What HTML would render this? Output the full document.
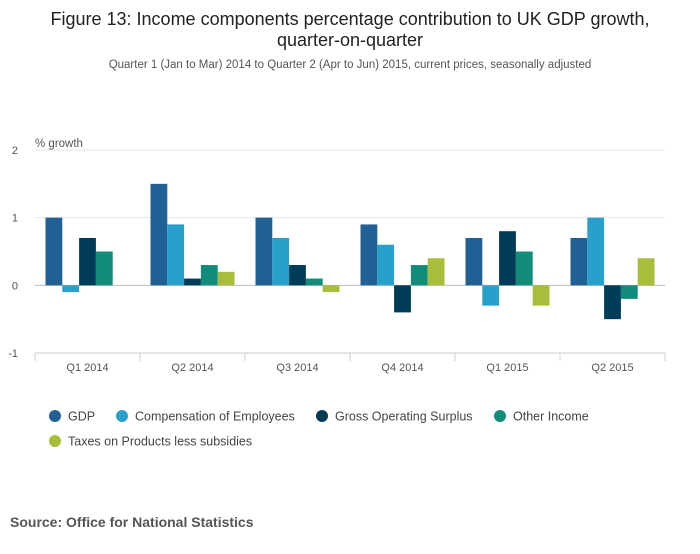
<!DOCTYPE html>
<html><head><meta charset="utf-8"><style>
body{margin:0;background:#fff;font-family:"Liberation Sans",sans-serif;}
svg text{font-family:"Liberation Sans",sans-serif;}
</style></head><body>
<svg id="chart" width="700" height="549" xmlns="http://www.w3.org/2000/svg">
<text x="350" y="25" text-anchor="middle" font-size="18" fill="#222">Figure 13: Income components percentage contribution to UK GDP growth,</text>
<text x="350" y="46" text-anchor="middle" font-size="18" fill="#222">quarter-on-quarter</text>
<text x="350" y="68" text-anchor="middle" font-size="11.5" fill="#555">Quarter 1 (Jan to Mar) 2014 to Quarter 2 (Apr to Jun) 2015, current prices, seasonally adjusted</text>
<text x="35" y="147" font-size="11.5" fill="#555">% growth</text>
<g id="grid"></g><g id="bars"></g><g id="xaxis"></g>
<g id="legend"></g>
<text x="10" y="527" font-size="14" font-weight="bold" fill="#555">Source: Office for National Statistics</text>
</svg>
<script>
const categories=["Q1 2014","Q2 2014","Q3 2014","Q4 2014","Q1 2015","Q2 2015"];
const seriesNames=["GDP","Compensation of Employees","Gross Operating Surplus","Other Income","Taxes on Products less subsidies"];
const gdp=[1.0,1.5,1.0,0.9,0.7,0.7];
const comp=[-0.1,0.9,0.7,0.6,-0.3,1.0];
const gos=[0.7,0.1,0.3,-0.4,0.8,-0.5];
const other=[0.5,0.3,0.1,0.3,0.5,-0.2];
const taxes=[0.0,0.2,-0.1,0.4,-0.3,0.4];
const yTicks=[2,1,0,-1];
const colors=["#206095","#27a0cc","#003c57","#118c7b","#a8bd3a"];
const series=[gdp,comp,gos,other,taxes];
const NS="http://www.w3.org/2000/svg";
const x0=35,x1=665,yTop=150,yBot=353,yMax=2,yMin=-1;
const y=v=>yTop+(yMax-v)/(yMax-yMin)*(yBot-yTop);
const bw=(x1-x0)/categories.length;
function mk(tag,attrs,parent){const e=document.createElementNS(NS,tag);for(const k in attrs)e.setAttribute(k,attrs[k]);document.getElementById(parent).appendChild(e);return e;}
yTicks.forEach(t=>{
 const l=mk("line",{x1:x0,x2:x1,y1:y(t),y2:y(t),stroke:t===0?"#bbb":"#e6e6e6","stroke-width":1},"grid");
 
 
 const tx=mk("text",{x:18,y:y(t)+4,"font-size":11,fill:"#555","text-anchor":"end"},"grid");
 tx.textContent=t;
 
 
});
const ax=mk("line",{x1:x0,x2:x1,y1:yBot,y2:yBot,stroke:"#ccc"},"xaxis");


const barW=16.8;
categories.forEach((c,i)=>{
 const gx=x0+i*bw;
 const tk=mk("line",{x1:gx,x2:gx,y1:yBot,y2:yBot+8,stroke:"#ccc"},"xaxis");
 
 
 const t=mk("text",{x:gx+bw/2,y:yBot+18,"font-size":11,fill:"#555","text-anchor":"middle"},"xaxis");
 t.textContent=c;
 
 
 const start=gx+(bw-barW*5)/2;
 series.forEach((s,j)=>{
  const v=s[i];
  const r=mk("rect",{x:start+j*barW,y:Math.min(y(v),y(0)),width:barW,height:Math.abs(y(v)-y(0)),fill:colors[j]},"bars");
  
  
 });
});
mk("line",{x1:x1,x2:x1,y1:yBot,y2:yBot+8,stroke:"#ccc"},"xaxis");
const lp=[[55,416],[122,416],[322,416],[500,416],[55,441]];
seriesNames.forEach((n,j)=>{
 const c=mk("circle",{cx:lp[j][0],cy:lp[j][1],r:6,fill:colors[j]},"legend");
 
 
 const t=mk("text",{x:lp[j][0]+13,y:lp[j][1]+4.5,"font-size":12.5,fill:"#444"},"legend");
 t.textContent=n;
 
 
});
</script>
</body></html>
